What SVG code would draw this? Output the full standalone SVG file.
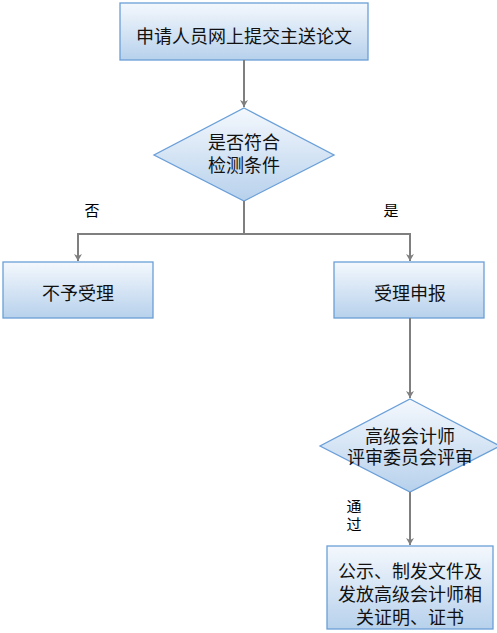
<svg xmlns="http://www.w3.org/2000/svg" width="497" height="633" viewBox="0 0 497 633">
<defs>
<linearGradient id="g" x1="0" y1="0" x2="0" y2="1">
<stop offset="0" stop-color="#f4f8fd"/>
<stop offset="1" stop-color="#b7d1ec"/>
</linearGradient>
<marker id="ah" markerWidth="8" markerHeight="8" refX="7" refY="4" orient="auto" markerUnits="userSpaceOnUse" viewBox="0 0 8 8">
<path d="M0,0 L7,4 L0,8 L2,4 Z" fill="#7f7f7f"/>
</marker>
</defs>
<style>
.n{fill:url(#g);stroke:#6a9fd8;stroke-width:1.3}
.t{font-family:"Liberation Sans","Noto Sans CJK SC",sans-serif;font-size:18px;fill:#111;text-anchor:middle}
.l{font-family:"Liberation Sans","Noto Sans CJK SC",sans-serif;font-size:15px;fill:#000;text-anchor:middle}
.c{fill:none;stroke:#7f7f7f;stroke-width:2;marker-end:url(#ah)}
</style>
<g id="n1"><rect class="n" x="120" y="3" width="248" height="57"/><text class="t" x="244" y="43">申请人员网上提交主送论文</text></g>
<g id="n2"><polygon class="n" points="244,108 334,155 244,201 154,155"/><text class="t" x="244" y="149">是否符合</text><text class="t" x="244" y="172">检测条件</text></g>
<g id="n3"><rect class="n" x="3" y="262" width="150" height="56"/><text class="t" x="78" y="300">不予受理</text></g>
<g id="n4"><rect class="n" x="334" y="262" width="150" height="56"/><text class="t" x="410" y="300">受理申报</text></g>
<g id="n5"><polygon class="n" points="410,399 500,446 410,492 320,446"/><text class="t" x="410" y="443">高级会计师</text><text class="t" x="410" y="464">评审委员会评审</text></g>
<g id="n6"><rect class="n" x="327" y="546" width="166" height="83"/><text class="t" x="410" y="578">公示、制发文件及</text><text class="t" x="410" y="601">发放高级会计师相</text><text class="t" x="410" y="624">关证明、证书</text></g>
<g id="connectors">
<path class="c" d="M244,60 V107"/>
<path class="c" d="M244,201 V234 H78 V261"/>
<path class="c" d="M244,234 H410 V261"/>
<path class="c" d="M410,318 V398"/>
<path class="c" d="M410,492 V545"/>
<text class="l" x="92" y="216">否</text>
<text class="l" x="391" y="216">是</text>
<text class="l" x="354" y="512">通</text>
<text class="l" x="354" y="530">过</text>
</g>
</svg>
